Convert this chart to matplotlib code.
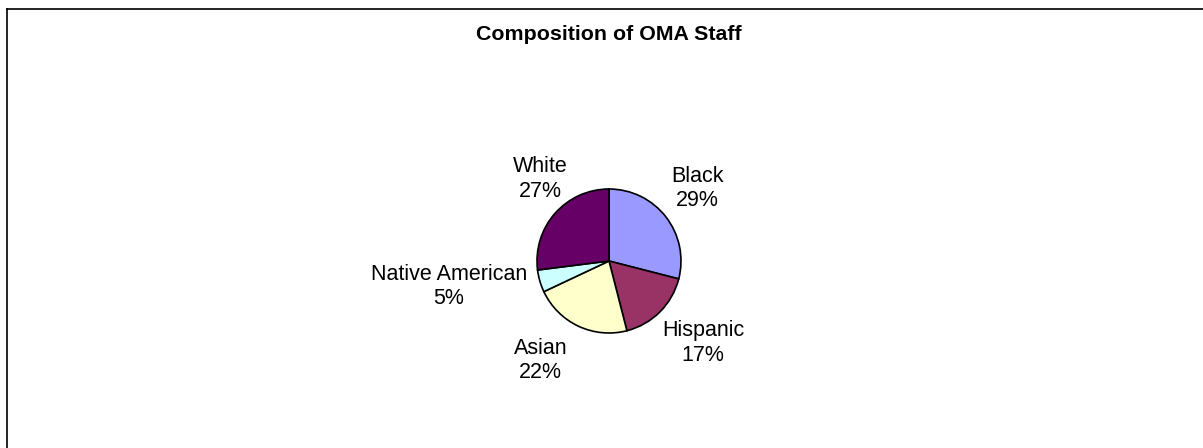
"""
Composition of OMA Staff - pie chart with outside data labels
"""
import numpy as np
import matplotlib
matplotlib.use('Agg')
import matplotlib.pyplot as plt
from matplotlib.lines import Line2D

plt.rcParams['font.family'] = ['Liberation Sans', 'DejaVu Sans']

groups = ['Black', 'Hispanic', 'Asian', 'Native American', 'White']
shares = [29, 17, 22, 5, 27]  # percent
colors = ['#9999FF', '#993366', '#FFFFCC', '#CCFFFF', '#660066']
# small hand nudges (px, right / down) so labels sit where Excel put them
label_nudge = [(-1, -6), (4, 5), (-20, 1), (-2, -5), (17, -10)]

W, H = 1203, 448
fig = plt.figure(figsize=(W / 100, H / 100), dpi=100)

# chart area border (only left and top edges are visible in the crop)
fig.add_artist(Line2D([7 / W, 7 / W], [0, 1 - 9 / H], transform=fig.transFigure, color='k', lw=1.2))
fig.add_artist(Line2D([7 / W, 1], [1 - 9 / H, 1 - 9 / H], transform=fig.transFigure, color='k', lw=1.2))

fig.text(609 / W, 1 - 35 / H, 'Composition of OMA Staff', ha='center', va='center',
         fontsize=15.4, fontweight='bold')

# pie axes placed in pixels: center (609, 261), radius 72
cx, cy, r = 609, 261, 72
ax = fig.add_axes([(cx - r) / W, (H - cy - r) / H, 2 * r / W, 2 * r / H])
wedges, _ = ax.pie(shares, colors=colors, startangle=90, counterclock=False, radius=1,
                   wedgeprops=dict(edgecolor='k', linewidth=1.2))
ax.set_xlim(-1, 1)
ax.set_ylim(-1, 1)
ax.set_axis_off()

# data labels: box pushed outward from a point just outside the pie edge
fig.canvas.draw()
renderer = fig.canvas.get_renderer()
for w, name, pct, (nx, ny) in zip(wedges, groups, shares, label_nudge):
    theta = np.deg2rad((w.theta1 + w.theta2) / 2)
    px, py = 1.2 * np.cos(theta), 1.2 * np.sin(theta)
    t = ax.text(px, py, '{}\n{}%'.format(name, pct), ha='center', va='center',
                fontsize=15.5, linespacing=1.2, multialignment='center')
    bb = t.get_window_extent(renderer)
    bw, bh = bb.width / r, bb.height / r  # in data units (1 unit = r px)
    t.set_position((px + bw / 2 * np.cos(theta) + nx / r,
                    py + bh / 2 * np.sin(theta) - ny / r))

fig.savefig('out.png', dpi=100)
